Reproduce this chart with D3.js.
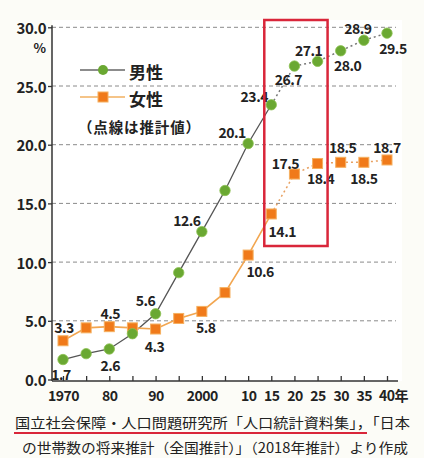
<!DOCTYPE html>
<html><head><meta charset="utf-8">
<script src="https://cdn.jsdelivr.net/npm/d3@7/dist/d3.min.js"></script>
<style>
html,body{margin:0;padding:0;background:#fcfcf7;}
svg{display:block;}
text{font-family:"Noto Sans CJK JP","Noto Sans",sans-serif;fill:#222;}
</style></head><body>
<svg id="c" width="424" height="458"></svg>
<script>
const years = [1970,1975,1980,1985,1990,1995,2000,2005,2010,2015,2020,2025,2030,2035,2040];
const male = [1.7,2.2,2.6,3.9,5.6,9.1,12.6,16.1,20.1,23.4,26.7,27.1,28.0,28.9,29.5];
const female = [3.3,4.4,4.5,4.4,4.3,5.2,5.8,7.4,10.6,14.1,17.5,18.4,18.5,18.5,18.7];
const lastActualYear = 2015;
const yTicks = [0,5,10,15,20,25,30];
const xTickLabels = {1970:"1970",1980:"80",1990:"90",2000:"2000",2010:"10",2015:"15",2020:"20",2025:"25",2030:"30",2035:"35",2040:"40年"};
// labelled points: [year, dx, dy]
const maleLabels = [[1970,-2,14],[1980,1,16],[1990,-10,-14],[2000,-15,-12],[2010,-16,-12],[2015,-17,-9],[2020,-6,13],[2025,-9,-11],[2030,7,14],[2035,-6,-12],[2040,6,15]];
const femaleLabels = [[1970,1,-14],[1980,1,-14],[1990,-1,17],[2000,4,16],[2010,12,16],[2015,11,17],[2020,-9,-11],[2025,3,15],[2030,2,-15],[2035,0,16],[2040,0,-13]];
const sourceLines = ["国立社会保障・人口問題研究所「人口統計資料集」，「日本","の世帯数の将来推計（全国推計）」（2018年推計）より作成"];

const svg = d3.select("#c");
const x = d3.scaleLinear().domain([1970,2040]).range([63,387]);
const y = d3.scaleLinear().domain([0,30]).range([379.5,27.3]);
const axX = 52, axY = 381;

svg.append("rect").attr("x",axX).attr("y",20).attr("width",350).attr("height",axY-20).attr("fill","#fff");

// grid
svg.append("g").selectAll("line").data(yTicks.filter(d=>d>0)).join("line")
  .attr("x1",axX).attr("x2",396).attr("y1",d=>y(d)).attr("y2",d=>y(d))
  .attr("stroke","#8a8a8a").attr("stroke-width",1).attr("stroke-dasharray","4,3");

// left axis
const gl = svg.append("g").attr("transform",`translate(${axX},0)`)
  .call(d3.axisLeft(y).tickValues(yTicks).tickSize(4).tickPadding(2).tickFormat(d3.format(".1f")));
gl.select(".domain").attr("stroke","#333").attr("stroke-width",1.5).attr("d",`M0,${y(30)-2}V${axY}`);
gl.selectAll(".tick line").attr("stroke","#333").attr("stroke-width",1.3);
gl.selectAll(".tick text").attr("font-size",15).attr("font-weight","bold").attr("fill","#222")
  .attr("font-family",'"Noto Sans CJK JP",sans-serif').attr("dy","0.4em").attr("letter-spacing","-0.5");
svg.append("text").attr("x",46).attr("y",47).attr("text-anchor","end").attr("dominant-baseline","central").attr("font-size",13).attr("font-weight","bold").text("%");

// bottom axis
const gb = svg.append("g").attr("transform",`translate(0,${axY})`)
  .call(d3.axisBottom(x).tickValues(years).tickSize(-5).tickPadding(10).tickFormat(d=>xTickLabels[d]||""));
gb.select(".domain").attr("stroke","#333").attr("stroke-width",1.5).attr("d",`M${axX},0H398`);
gb.selectAll(".tick line").attr("stroke","#333").attr("stroke-width",1.3);
gb.selectAll(".tick text").attr("font-size",14).attr("font-weight","bold").attr("fill","#222")
  .attr("font-family",'"Noto Sans CJK JP",sans-serif').attr("letter-spacing","-0.5");
gb.selectAll(".tick text").filter(d=>d===2040).attr("dx","6");

// lines
function drawSeries(vals, color, width, dotColor){
  const pts = years.map((yr,i)=>[yr,vals[i]]);
  const line = d3.line().x(d=>x(d[0])).y(d=>y(d[1]));
  svg.append("path").attr("d",line(pts.filter(d=>d[0]<=lastActualYear)))
    .attr("fill","none").attr("stroke",color).attr("stroke-width",width);
  svg.append("path").attr("d",line(pts.filter(d=>d[0]>=lastActualYear)))
    .attr("fill","none").attr("stroke",dotColor).attr("stroke-width",1.5).attr("stroke-dasharray","2,3");
  return pts;
}
const mp = drawSeries(male,"#555",1.3,"#777");
const fp = drawSeries(female,"#f2a650",1.6,"#e8a060");

svg.append("g").selectAll("rect").data(fp).join("rect")
  .attr("x",d=>x(d[0])-5).attr("y",d=>y(d[1])-5).attr("width",10).attr("height",10)
  .attr("fill","#f07a1a").attr("stroke","#f5b060").attr("stroke-width",1);
svg.append("g").selectAll("circle").data(mp).join("circle")
  .attr("cx",d=>x(d[0])).attr("cy",d=>y(d[1])).attr("r",5.2)
  .attr("fill","#6aa832").attr("stroke","#8cc050").attr("stroke-width",0.8);

// data labels
function labels(list, vals){
  svg.append("g").selectAll("text").data(list).join("text")
    .attr("x",d=>x(d[0])+d[1]).attr("y",d=>y(vals[years.indexOf(d[0])])+d[2])
    .attr("text-anchor","middle").attr("dominant-baseline","central")
    .attr("font-size",14).attr("font-weight","bold").attr("letter-spacing","-0.5")
    .text(d=>vals[years.indexOf(d[0])].toFixed(1));
}
labels(maleLabels, male);
labels(femaleLabels, female);

// red box
svg.append("rect").attr("x",x(2015)-7).attr("y",20).attr("width",x(2025)-x(2015)+17).attr("height",226)
  .attr("fill","none").attr("stroke","#d9263a").attr("stroke-width",2.5);

// legend
const lg = svg.append("g");
lg.append("line").attr("x1",80).attr("x2",125).attr("y1",70).attr("y2",70).attr("stroke","#666").attr("stroke-width",1.3);
lg.append("circle").attr("cx",103).attr("cy",70).attr("r",5).attr("fill","#6aa832");
lg.append("text").attr("x",129).attr("y",71).attr("dominant-baseline","central").attr("font-size",17).attr("font-weight","bold").text("男性");
lg.append("line").attr("x1",80).attr("x2",125).attr("y1",97).attr("y2",97).attr("stroke","#f2b060").attr("stroke-width",1.6);
lg.append("rect").attr("x",98).attr("y",92).attr("width",10).attr("height",10).attr("fill","#f07a1a").attr("stroke","#f5b060");
lg.append("text").attr("x",129).attr("y",98).attr("dominant-baseline","central").attr("font-size",17).attr("font-weight","bold").text("女性");
lg.append("text").attr("x",78).attr("y",126).attr("dominant-baseline","central").attr("font-size",14.5).attr("font-weight","bold").attr("textLength",122).text("（点線は推計値）");

// source
svg.append("text").attr("x",15).attr("y",422).attr("dominant-baseline","central").attr("font-size",14)
  .attr("textLength",395).attr("lengthAdjust","spacingAndGlyphs").text(sourceLines[0]);
svg.append("line").attr("x1",14).attr("x2",367).attr("y1",433).attr("y2",433).attr("stroke","#d9263a").attr("stroke-width",2);
svg.append("text").attr("x",22).attr("y",447).attr("dominant-baseline","central").attr("font-size",14)
  .attr("textLength",386).attr("lengthAdjust","spacingAndGlyphs").text(sourceLines[1]);
</script></body></html>
